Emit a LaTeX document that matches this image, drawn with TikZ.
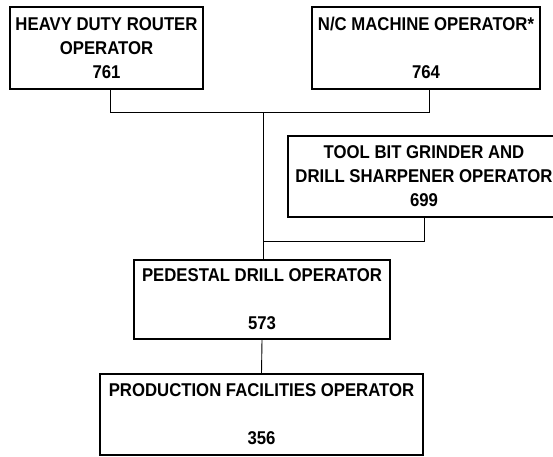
\documentclass[tikz,border=0pt]{standalone}
\usepackage{fontspec}
\setmainfont{Liberation Sans}[FakeStretch=0.905]
\begin{document}
\begin{tikzpicture}[x=1pt,y=-1pt,
  box/.style={draw, line width=1.6pt, inner sep=0pt, align=center,
    font=\fontsize{18.5}{24}\selectfont\bfseries},
  link/.style={line width=0.9pt}]
\useasboundingbox (0,0) rectangle (553,456);
\begin{scope}
\clip (0,0) rectangle (553,456);
\node[box, minimum width=193pt, minimum height=82pt] (b1) at (106.5,48)
  {HEAVY DUTY ROUTER\\OPERATOR\\761};
\node[box, minimum width=228pt, minimum height=82pt] (b2) at (426,48)
  {N/C MACHINE OPERATOR*\\\strut\\764};
\node[box, minimum width=272pt, minimum height=81pt] (b3) at (424,176.5)
  {TOOL BIT GRINDER AND\\DRILL SHARPENER OPERATOR\\699};
\node[box, minimum width=256pt, minimum height=79pt] (b4) at (262,299.5)
  {PEDESTAL DRILL OPERATOR\\\strut\\573};
\node[box, minimum width=323pt, minimum height=81pt] (b5) at (261.5,414.5)
  {PRODUCTION FACILITIES OPERATOR\\\strut\\356};
\end{scope}
\coordinate (j1) at (110,112);
\coordinate (j2) at (429,112);
\coordinate (jm) at (263,112);
\coordinate (j3) at (263,241);
\coordinate (j4) at (424,241);
\draw[link] (b1.south -| j1) -- (j1) -- (j2) -- (b2.south -| j2);
\draw[link] (jm) -- (b4.north -| jm);
\draw[link] (j3) -- (j4) -- (b3.south -| j4);
\draw[link] (b4.south) -- (b5.north);
\end{tikzpicture}
\end{document}
